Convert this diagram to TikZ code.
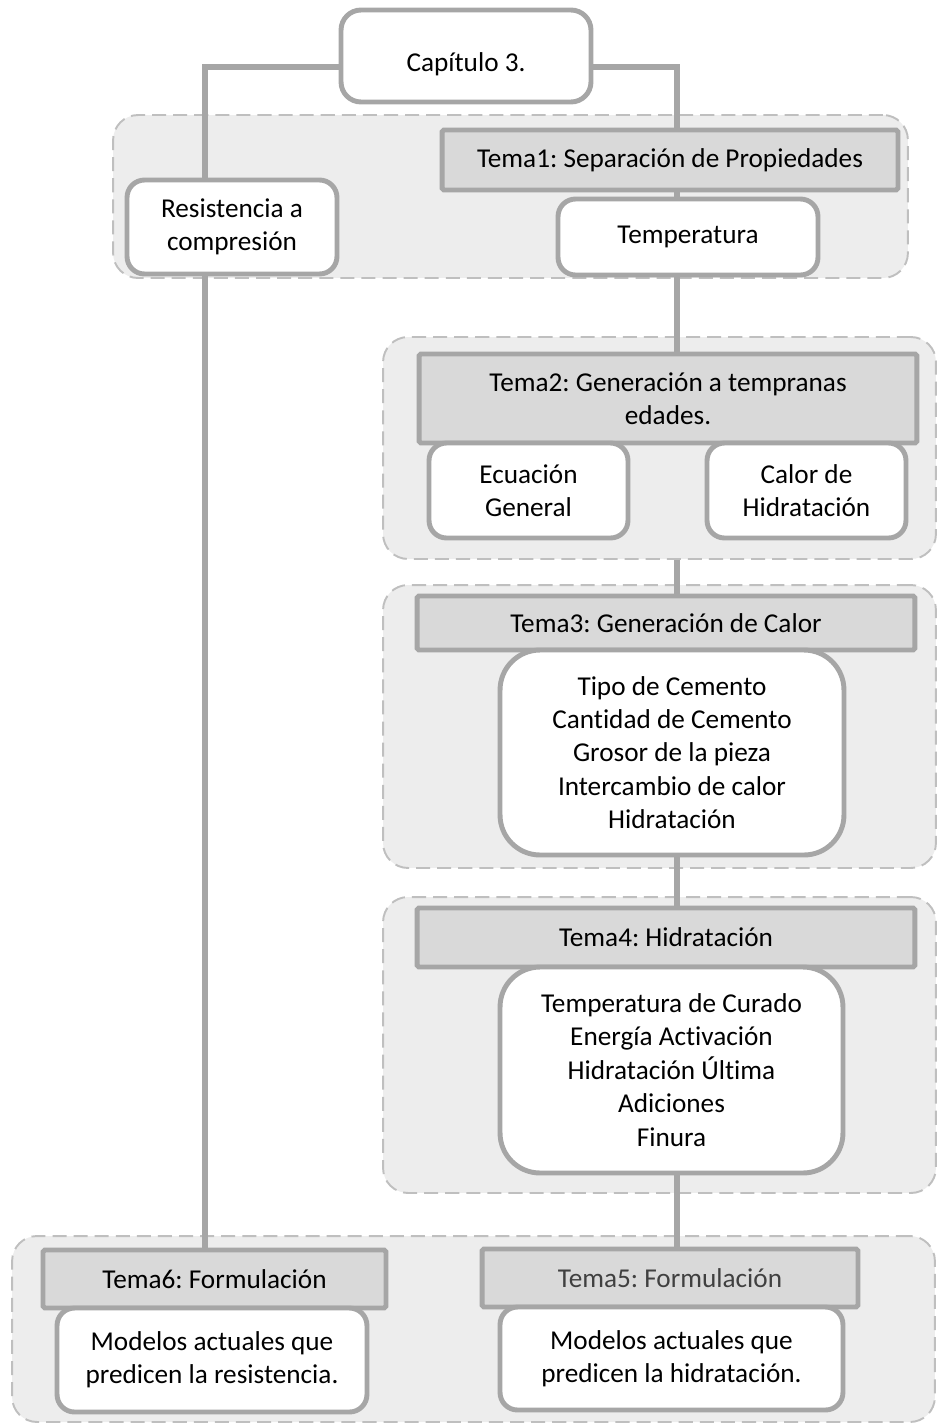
\documentclass[tikz,border=0pt]{standalone}
\usepackage{fontspec}
\setmainfont{Carlito}[Ligatures=NoCommon]
\usetikzlibrary{arrows, shapes}
\pgfdeclarelayer{back}
\pgfdeclarelayer{lines}
\pgfsetlayers{back,lines,main}
\definecolor{framegray}{HTML}{A6A6A6}
\definecolor{temagray}{HTML}{D9D9D9}
\definecolor{areagray}{HTML}{EDEDED}
\definecolor{dashgray}{HTML}{BFBFBF}
\frenchspacing

\begin{document}
\begin{tikzpicture}[x=0.02cm, y=-0.02cm]
    \tikzstyle{every node} = [font=\fontsize{15.5}{19}\selectfont, align=center, inner sep=0pt]
    \tikzstyle{areabox} = [draw=dashgray, fill=areagray, dash pattern=on 8pt off 4pt, line width=1.1pt, rounded corners=0.5cm]
    \tikzstyle{temabox} = [draw=framegray, fill=temagray, line width=2.8pt, rounded corners=1pt]
    \tikzstyle{itembox} = [draw=framegray, fill=white, line width=2.8pt, rounded corners=0.35cm]
    \tikzstyle{listbox} = [itembox, rounded corners=0.8cm]
    \tikzstyle{link} = [draw=framegray, line width=3.4pt]
    \useasboundingbox (0,0) rectangle (937,1424);
    \begin{pgfonlayer}{back}
        \node (g1) [areabox, minimum width=15.9cm, minimum height=3.26cm] at (510.5, 196.5) {};
        \node (g2) [areabox, minimum width=11.06cm, minimum height=4.44cm] at (659.5, 448) {};
        \node (g3) [areabox, minimum width=11.06cm, minimum height=5.66cm] at (659.5, 726.5) {};
        \node (g4) [areabox, minimum width=11.06cm, minimum height=5.92cm] at (659.5, 1045) {};
        \node (g5) [areabox, minimum width=18.46cm, minimum height=3.72cm] at (473.5, 1329) {};
    \end{pgfonlayer}
    \node (cap) [itembox, rounded corners=0.4cm, text height=0.7cm, minimum width=5cm, minimum height=1.84cm] at (466, 56) {Capítulo 3.};
    \node (t1) [temabox, minimum width=9.12cm, minimum height=1.2cm] at (670, 160) {Tema1: Separación de Propiedades};
    \node (res) [itembox, minimum width=4.2cm, minimum height=1.88cm] at (232, 227) {Resistencia a\\compresión};
    \node (temp) [itembox, minimum width=5.2cm, minimum height=1.52cm] at (688, 237) {Temperatura};
    \node (t2) [temabox, minimum width=9.96cm, minimum height=1.78cm] at (668, 398.5) {Tema2: Generación a tempranas\\edades.};
    \node (ecu) [itembox, minimum width=3.98cm, minimum height=1.9cm] at (528.5, 490.5) {Ecuación\\General};
    \node (cal) [itembox, minimum width=3.98cm, minimum height=1.9cm] at (806.5, 490.5) {Calor de\\Hidratación};
    \node (t3) [temabox, minimum width=9.96cm, minimum height=1.08cm] at (666, 623) {Tema3: Generación de Calor};
    \node (b3) [listbox, minimum width=6.88cm, minimum height=4.1cm] at (672, 752.5) {Tipo de Cemento\\Cantidad de Cemento\\Grosor de la pieza\\Intercambio de calor\\Hidratación};
    \node (t4) [temabox, minimum width=9.96cm, minimum height=1.18cm] at (666, 937.5) {Tema4: Hidratación};
    \node (b4) [listbox, minimum width=6.86cm, minimum height=4.12cm] at (671.5, 1070) {Temperatura de Curado\\Energía Activación\\Hidratación Última\\Adiciones\\Finura};
    \node (t6) [temabox, minimum width=6.86cm, minimum height=1.16cm] at (214.5, 1279) {Tema6: Formulación};
    \node (b6) [itembox, minimum width=6.2cm, minimum height=2.08cm] at (212, 1360) {Modelos actuales que\\predicen la resistencia.};
    \node (t5) [temabox, text=black!75, minimum width=7.52cm, minimum height=1.16cm] at (670, 1278) {Tema5: Formulación};
    \node (b5) [itembox, minimum width=6.86cm, minimum height=2.06cm] at (671.5, 1358.5) {Modelos actuales que\\predicen la hidratación.};
    \coordinate (lx) at (205, 0);
    \coordinate (rx) at (677, 0);
    \begin{pgfonlayer}{lines}
        \draw [link] ([yshift=-0.22cm]cap.west) -| (res.north -| lx);
        \draw [link] (res.south -| lx) -- (t6.north -| lx);
        \draw [link] ([yshift=-0.22cm]cap.east) -| (t1.north -| rx);
        \draw [link] (t1.south -| rx) -- (temp.north -| rx);
        \draw [link] (temp.south -| rx) -- (t2.north -| rx);
        \draw [link] (g2.south -| rx) -- (t3.north -| rx);
        \draw [link] (b3.south -| rx) -- (t4.north -| rx);
        \draw [link] (b4.south -| rx) -- (t5.north -| rx);
    \end{pgfonlayer}
\end{tikzpicture}
\end{document}
